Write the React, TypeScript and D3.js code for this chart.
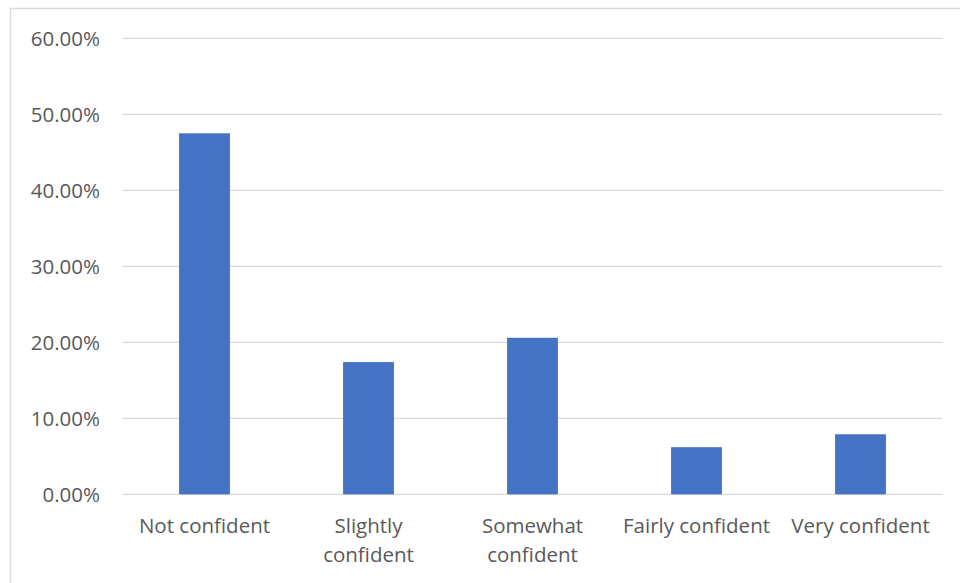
import { useEffect, useRef } from "react";
import * as d3 from "d3";

const categories = ["Not confident", "Slightly confident", "Somewhat confident", "Fairly confident", "Very confident"];
const labelLines = [["Not confident"], ["Slightly", "confident"], ["Somewhat", "confident"], ["Fairly confident"], ["Very confident"]];
const values = [0.475, 0.174, 0.206, 0.062, 0.079];
const yTicks = [0, 0.1, 0.2, 0.3, 0.4, 0.5, 0.6];

export default function App() {
  const ref = useRef<SVGSVGElement | null>(null);

  useEffect(() => {
    const svg = d3.select(ref.current);
    svg.selectAll("*").remove();
    const W = 960, H = 583;
    const left = 122.5, right = 942.5, top = 38.3, bottom = 494.3;
    const font = "'Open Sans', 'Noto Sans', sans-serif";

    svg.append("rect").attr("width", W).attr("height", H).attr("fill", "#fff");
    // chart border (left and top visible)
    svg.append("rect")
      .attr("x", 10.5).attr("y", 8.5).attr("width", W + 10).attr("height", H + 10)
      .attr("fill", "none").attr("stroke", "#d9d9d9").attr("stroke-width", 1.5);

    const x = d3.scaleBand().domain(categories).range([left, right]).paddingInner(0.69).paddingOuter(0.345);
    const y = d3.scaleLinear().domain([0, 0.6]).range([bottom, top]);

    const g = svg.append("g");
    g.selectAll("line.grid").data(yTicks).enter().append("line")
      .attr("x1", left).attr("x2", right)
      .attr("y1", (d) => y(d)).attr("y2", (d) => y(d))
      .attr("stroke", "#d9d9d9").attr("stroke-width", 1.3);

    g.selectAll("text.yt").data(yTicks).enter().append("text")
      .attr("x", 100).attr("y", (d) => y(d)).attr("dy", "0.36em")
      .attr("text-anchor", "end").attr("font-family", font).attr("font-size", 20.5)
      .attr("fill", "#595959").text((d) => d3.format(".2%")(d));

    g.selectAll("rect.bar").data(values).enter().append("rect")
      .attr("x", (_, i) => x(categories[i])!)
      .attr("width", x.bandwidth())
      .attr("y", (d) => y(d))
      .attr("height", (d) => bottom - y(d))
      .attr("fill", "#4472c4");

    const lbl = g.selectAll("text.xl").data(labelLines).enter().append("text")
      .attr("x", (_, i) => x(categories[i])! + x.bandwidth() / 2)
      .attr("y", 533).attr("text-anchor", "middle")
      .attr("font-family", font).attr("font-size", 20.5).attr("fill", "#595959");
    lbl.selectAll("tspan").data((d) => d).enter().append("tspan")
      .attr("x", function () { return (this as any).parentNode.getAttribute("x"); })
      .attr("dy", (_, j) => (j === 0 ? 0 : 29)).text((d) => d);
  }, []);

  return (
    <svg ref={ref} width={960} height={583} style={{ position: "absolute", left: 0, top: 0 }} />
  );
}
